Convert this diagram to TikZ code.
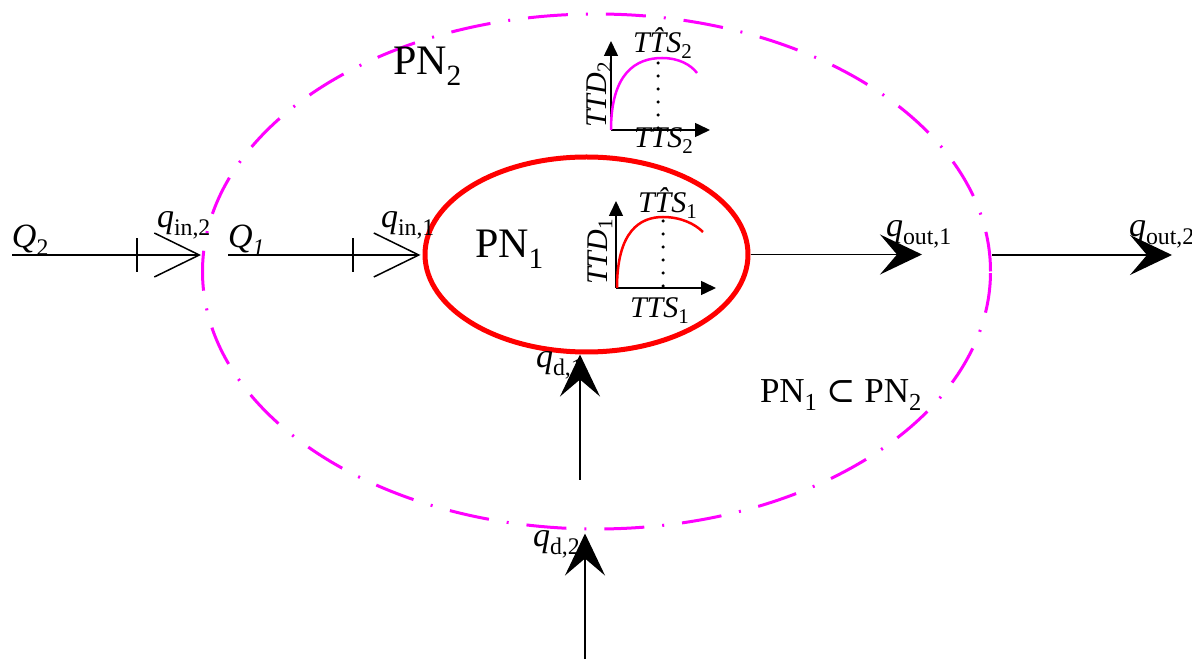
\documentclass[tikz,border=0pt]{standalone}
\usepackage{fontspec}
\setmainfont{Liberation Serif}
\newfontfamily\symfnt{DejaVu Serif}
\usetikzlibrary{shapes.geometric,arrows.meta}
\definecolor{mag}{RGB}{255,0,255}
\definecolor{pnred}{RGB}{255,0,0}
\tikzset{
  outerell/.style={ellipse,draw=mag,line width=3pt,dash pattern=on 40pt off 18pt on 2pt off 18pt},
  innerell/.style={ellipse,draw=pnred,line width=5pt},
  flow/.style={draw=black,line width=1.5pt},
  inarr/.style={-{Straight Barb[length=45pt,width=44pt]}},
  outarr/.style={-{Stealth[length=42pt,width=40pt,inset=17pt]}},
  axisline/.style={draw=black,line width=1.5pt,-{Triangle[length=15pt,width=14pt]}},
  dotline/.style={draw=black,line width=3.5pt,line cap=round,dash pattern=on 0pt off 13pt},
  lbl/.style={inner sep=0pt,outer sep=0pt},
  qfont/.style={font=\fontsize{34}{40}\selectfont},
  pnfont/.style={font=\fontsize{42}{48}\selectfont},
  tfont/.style={font=\fontsize{30}{36}\selectfont}
}
\begin{document}
\begin{tikzpicture}[x=1pt,y=1pt]
\useasboundingbox (0,0) rectangle (1192,659);
\clip (0,0) rectangle (1192,659);
% ellipses
\node[outerell,minimum width=788pt,minimum height=515pt] (outer) at (596.5,387.5) {};
\node[innerell,minimum width=323pt,minimum height=195pt] (inner) at (586.5,404.5) {};
% flow end points
\coordinate (q2s) at (12,404);
\coordinate (q1s) at (228,404);
\coordinate (o1) at (922,404);
\coordinate (o2) at (1172,404);
\coordinate (d1s) at (580,179);
\coordinate (d2s) at (585,0);
% flows
\draw[flow,inarr] (q2s) -- (q2s -| outer.west);
\draw[flow,inarr,shorten >=2pt] (q1s) -- (q1s -| inner.west);
\draw[flow] (137,387) -- (137,421);
\draw[flow] (353,387) -- (353,421);
\draw[flow,outarr] (inner.east) -- (inner.east -| o1);
\draw[flow,outarr] (o2 -| outer.east) -- (o2);
\draw[flow,outarr] (d1s) -- (d1s |- inner.south);
\draw[flow,outarr,shorten >=3pt] (d2s) -- (d2s |- outer.south);
% flow labels
\node[lbl,qfont,anchor=base west] (lQ2) at (12,411) {\textit{Q}\textsubscript{2}};
\node[lbl,qfont,anchor=base west] (lQ1) at (228,411) {\textit{Q}\textsubscript{\textit{1}}};
\node[lbl,qfont,anchor=base west] (lqin2) at (157,431) {\textit{q}\textsubscript{in,2}};
\node[lbl,qfont,anchor=base west] (lqin1) at (381,431) {\textit{q}\textsubscript{in,1}};
\node[lbl,qfont,anchor=base west] (lqout1) at (886,422) {\textit{q}\textsubscript{out,1}};
\node[lbl,qfont,anchor=base west] (lqout2) at (1129,422) {\textit{q}\textsubscript{out,2}};
\node[lbl,qfont,anchor=base west] (lqd1) at (536,291) {\textit{q}\textsubscript{d,1}};
\node[lbl,qfont,anchor=base west] (lqd2) at (533,112) {\textit{q}\textsubscript{d,2}};
% PN labels
\node[lbl,pnfont,anchor=base west] (pn2) at (393,584) {PN\textsubscript{2}};
\node[lbl,pnfont,anchor=base west] (pn1) at (475,401) {PN\textsubscript{1}};
\node[lbl,font=\fontsize{35}{40}\selectfont,anchor=base west] (sub) at (760,256) {PN\textsubscript{1} {\symfnt ⊂} PN\textsubscript{2}};
% chart 2 (magenta)
\coordinate (c2o) at (611,529);
\coordinate (c2y) at (611,618);
\coordinate (c2x) at (710,529);
\draw[axisline] (c2o) -- (c2y);
\draw[axisline] (c2o) -- (c2x);
\draw[draw=mag,line width=2.5pt] (611,529) .. controls (611,586) and (636,601) .. (662,601) .. controls (679,601) and (691,594) .. (697,586);
\draw[dotline] (658,531) -- (658,599);
\node[lbl,tfont,anchor=base west] (c2top) at (633,606) {\textit{T\^{T}S}\textsubscript{2}};
\node[lbl,tfont,anchor=base west] (c2bot) at (634,511) {\textit{TTS}\textsubscript{2}};
\node[lbl,tfont,anchor=base west,rotate=90] (c2side) at (606,531) {\textit{TTD}\textsubscript{2}};
% chart 1 (red)
\coordinate (c1o) at (616,371);
\coordinate (c1y) at (616,458);
\coordinate (c1x) at (716,371);
\draw[axisline] (c1o) -- (c1y);
\draw[axisline] (c1o) -- (c1x);
\draw[draw=pnred,line width=2.5pt] (617,371) .. controls (617,428) and (640,442) .. (663,442) .. controls (681,442) and (695,435) .. (703,427);
\draw[dotline] (663,373) -- (663,440);
\node[lbl,tfont,anchor=base west] (c1top) at (638,446) {\textit{T\^{T}S}\textsubscript{1}};
\node[lbl,tfont,anchor=base west] (c1bot) at (630,341) {\textit{TTS}\textsubscript{1}};
\node[lbl,tfont,anchor=base west,rotate=90] (c1side) at (607,374) {\textit{TTD}\textsubscript{1}};
\end{tikzpicture}
\end{document}
